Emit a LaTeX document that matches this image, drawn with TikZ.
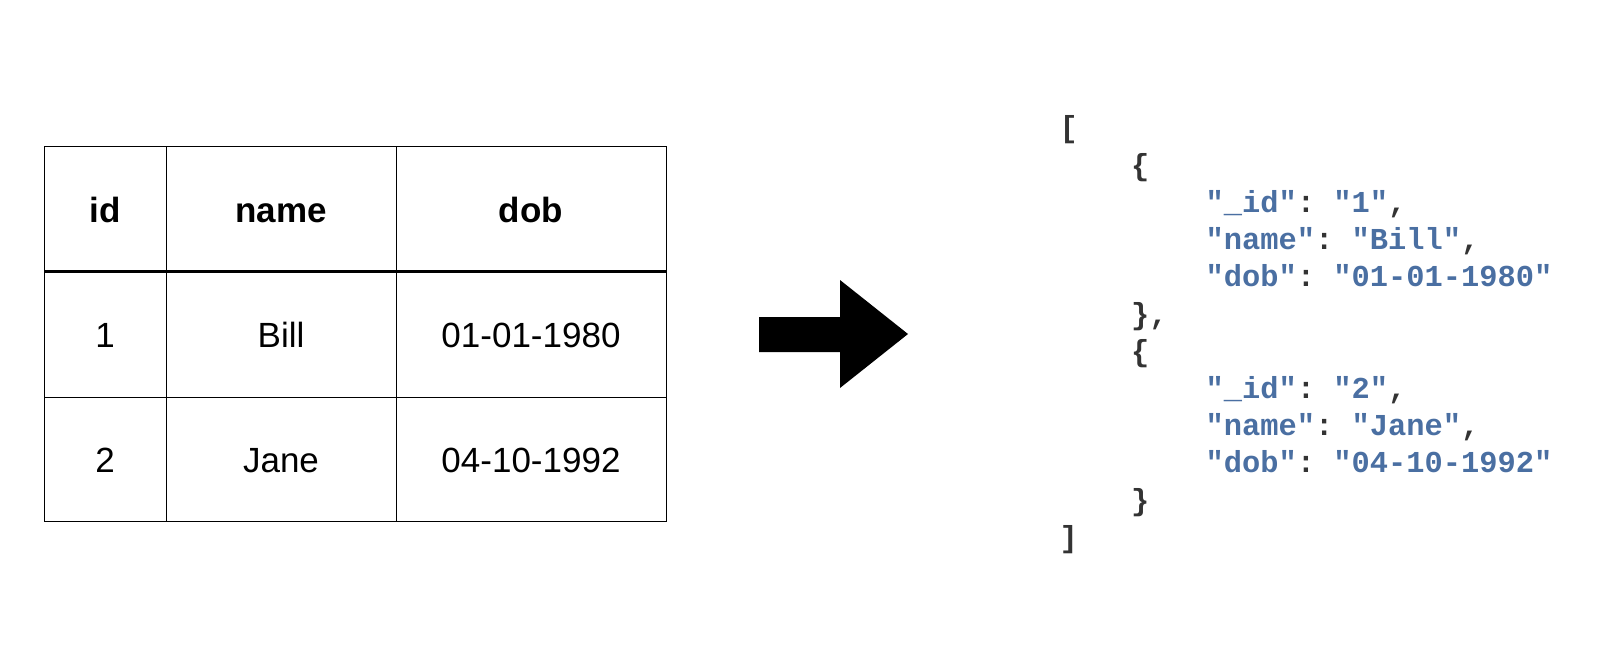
\documentclass[tikz,border=0pt]{standalone}
\usepackage{fontspec}
\setmainfont{Liberation Sans}
\setmonofont{Liberation Mono}
\usetikzlibrary{positioning}
\definecolor{JsonBlue}{RGB}{74,111,162}
\definecolor{JsonDark}{RGB}{51,51,51}
\newcommand{\jkey}[1]{\textcolor{JsonBlue}{"#1"}}
\newcommand{\jsep}{\textcolor{JsonDark}{:}\hphantom{0}}

\begin{document}
\begin{tikzpicture}[x=1pt, y=-1pt,
 cell/.style={inner sep=0pt, text height=25pt, text depth=0pt, font=\fontsize{35}{42}\selectfont},
 head/.style={cell, font=\fontsize{35}{42}\selectfont\bfseries},
 grid/.style={line width=1pt},
 headrule/.style={line width=3pt},
 jline/.style={anchor=base west, inner sep=0pt, text=JsonDark, font=\fontsize{30.4}{37}\selectfont\ttfamily\bfseries}
]
\useasboundingbox (0,0) rectangle (1612,658);

% table
\draw[grid] (44,147) rectangle (666,521);
\draw[grid] (166,147) -- (166,521);
\draw[grid] (396,147) -- (396,521);
\draw[grid] (44,397) -- (666,397);
\draw[headrule] (44,271) -- (666,271);

\node[head] (hid) at (105,210) {id};
\node[head] (hname) at (281,210) {name};
\node[head] (hdob) at (531,210) {dob};
\node[cell] (id1) at (105,335) {1};
\node[cell] (name1) at (281,335) {Bill};
\node[cell] (dob1) at (531,335) {01-01-1980};
\node[cell] (id2) at (105,460) {2};
\node[cell] (name2) at (281,460) {Jane};
\node[cell] (dob2) at (531,460) {04-10-1992};

% arrow
\fill (759,317) -- (840,317) -- (840,280) -- (908,334) -- (840,388)
  -- (840,352) -- (759,352) -- cycle;

% json
\node[jline] (j0) at (1059.5,138) {[};
\node[jline] (j1) at (1131,175.2) {\{};
\node[jline] (j2) at (1205.5,212.4) {\jkey{\_id}\jsep\jkey{1},};
\node[jline] (j3) at (1205.5,249.6) {\jkey{name}\jsep\jkey{Bill},};
\node[jline] (j4) at (1205.5,286.8) {\jkey{dob}\jsep\jkey{01-01-1980}};
\node[jline] (j5) at (1131,324) {\},};
\node[jline] (j6) at (1131,361.2) {\{};
\node[jline] (j7) at (1205.5,398.4) {\jkey{\_id}\jsep\jkey{2},};
\node[jline] (j8) at (1205.5,435.6) {\jkey{name}\jsep\jkey{Jane},};
\node[jline] (j9) at (1205.5,472.8) {\jkey{dob}\jsep\jkey{04-10-1992}};
\node[jline] (j10) at (1131,510) {\}};
\node[jline] (j11) at (1059.5,547.2) {]};
\end{tikzpicture}
\end{document}
